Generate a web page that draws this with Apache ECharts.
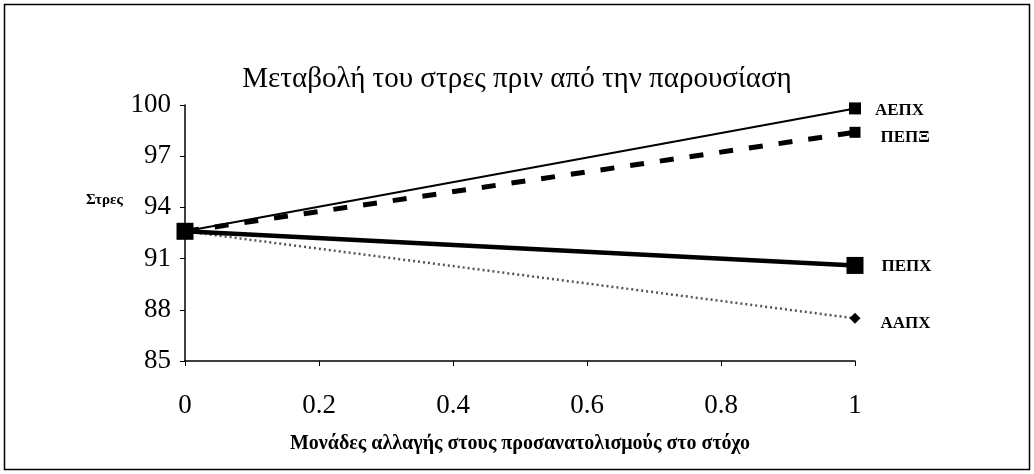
<!DOCTYPE html>
<html>
<head>
<meta charset="utf-8">
<script src="https://cdn.jsdelivr.net/npm/echarts@6/dist/echarts.min.js"></script>
<style>
html,body{margin:0;padding:0;background:#fff;}
#main{width:1034px;height:474px;}
</style>
</head>
<body>
<div id="main"></div>
<script>
var xValues = [0, 1];
var seriesNames = ['ΑΕΠΧ', 'ΠΕΠΞ', 'ΠΕΠΧ', 'ΑΑΠΧ'];
var aepx = [92.6, 99.8];
var pepks = [92.6, 98.4];
var pepx = [92.6, 90.6];
var aapx = [92.6, 87.5];
var yTicks = [85, 88, 91, 94, 97, 100];
var xTicks = [0, 0.2, 0.4, 0.6, 0.8, 1];

var serif = '"Liberation Serif", "DejaVu Serif", serif';

function build(vals, labelOffsetY) {
  return vals.map(function (v, i) {
    var item = { value: [xValues[i], v] };
    if (i === vals.length - 1) {
      item.label = { show: true, offset: [0, labelOffsetY] };
    }
    return item;
  });
}

var styles = [
  { values: aepx, line: { color: '#000', width: 2, type: 'solid' }, symbol: 'rect', size: 12, off: 2, dist: 14 },
  { values: pepks, line: { color: '#000', width: 5, type: [14, 16] }, symbol: 'rect', size: 11, off: 5, dist: 20 },
  { values: pepx, line: { color: '#000', width: 4.5, type: 'solid' }, symbol: 'rect', size: 17, off: 1, dist: 18 },
  { values: aapx, line: { color: '#555', width: 2.5, type: [2, 3] }, symbol: 'diamond', size: 11, off: 5, dist: 20 }
];

var series = styles.map(function (s, idx) {
  return {
    name: seriesNames[idx],
    type: 'line',
    data: build(s.values, s.off),
    symbol: s.symbol,
    symbolSize: s.size,
    showAllSymbol: true,
    clip: false,
    z: idx === 2 ? 5 : 3,
    itemStyle: { color: '#000' },
    lineStyle: s.line,
    label: {
      show: false,
      position: 'right',
      distance: s.dist,
      formatter: function (p) { return p.seriesName; },
      fontFamily: serif,
      fontSize: 17,
      fontWeight: 'bold',
      color: '#000'
    }
  };
});

var chart = echarts.init(document.getElementById('main'), null, { renderer: 'canvas' });
chart.setOption({
  backgroundColor: '#fff',
  animation: false,
  title: {
    text: 'Μεταβολή του στρες πριν από την παρουσίαση',
    left: 'center',
    top: 60,
    textStyle: { fontFamily: serif, fontSize: 29, fontWeight: 'normal', color: '#000' }
  },
  graphic: [
    { type: 'rect', shape: { x: 4.5, y: 4.5, width: 1025, height: 465 },
      style: { fill: 'none', stroke: '#000', lineWidth: 1.5 }, z: 0 },
    { type: 'text', left: 86, top: 193,
      style: { text: 'Στρες', font: 'bold 15px ' + serif, fill: '#000' } }
  ],
  grid: { left: 185, right: 179, top: 105, bottom: 113, containLabel: false },
  xAxis: {
    type: 'value',
    min: 0, max: 1, interval: 0.2,
    name: 'Μονάδες αλλαγής στους προσανατολισμούς στο στόχο',
    nameLocation: 'middle',
    nameGap: 73,
    nameTextStyle: { fontFamily: serif, fontSize: 20, fontWeight: 'bold', color: '#000' },
    axisLine: { show: true, lineStyle: { color: '#000', width: 1.5 } },
    axisTick: { show: true, length: 5, lineStyle: { color: '#000' } },
    axisLabel: { margin: 31, fontFamily: serif, fontSize: 27, color: '#000',
      formatter: function (v) { return String(Math.round(v * 10) / 10); } },
    splitLine: { show: false }
  },
  yAxis: {
    type: 'value',
    min: yTicks[0], max: yTicks[yTicks.length - 1], interval: 3,
    axisLine: { show: true, lineStyle: { color: '#000', width: 1.5 } },
    axisTick: { show: true, length: 5, lineStyle: { color: '#000' } },
    axisLabel: { margin: 14, fontFamily: serif, fontSize: 27, color: '#000' },
    splitLine: { show: false }
  },
  series: series
});
</script>
</body>
</html>
